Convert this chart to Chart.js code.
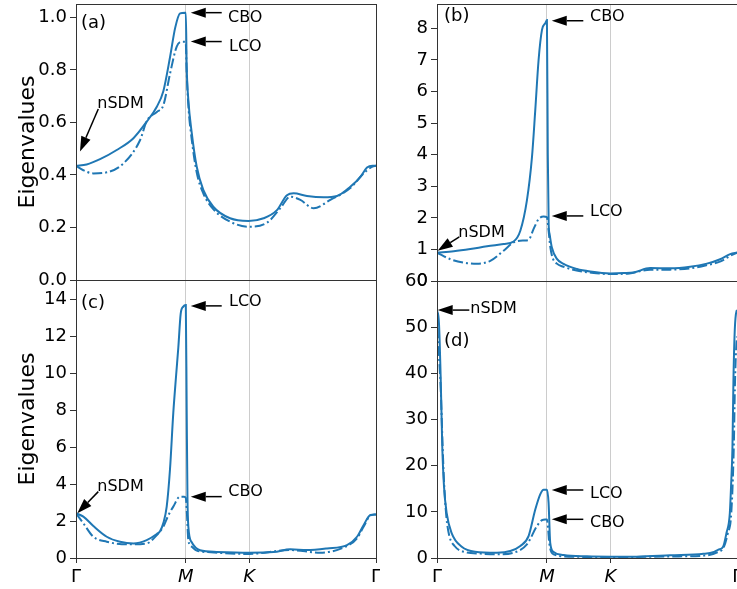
<!DOCTYPE html>
<html>
<head>
<meta charset="utf-8">
<script src="https://cdn.jsdelivr.net/npm/chart.js@4.4.1/dist/chart.umd.min.js"></script>
<style>
html,body{margin:0;padding:0;background:#fff;overflow:hidden;width:737px;height:589px}
canvas{position:absolute}
</style>
</head>
<body>
<canvas id="pa" width="380" height="300" style="left:0;top:0"></canvas>
<canvas id="pb" width="360" height="300" style="left:380px;top:0"></canvas>
<canvas id="pc" width="380" height="327" style="left:0;top:262px"></canvas>
<canvas id="pd" width="360" height="327" style="left:380px;top:262px"></canvas>
<script>
// path Γ-M-K-Γ in units of |ΓM|
const X_TICKS = [0, 1, 1.577, 2.732];
const X_LABELS = ['Γ', 'M', 'K', 'Γ'];

// (a)
const aYTicks = [0, 0.2, 0.4, 0.6, 0.8, 1.0];
const aSolidU = [0, 0.097, 0.219, 0.371, 0.523, 0.644, 0.736, 0.796, 0.857, 0.903, 0.948, 0.994, 1.0, 1.008, 1.023, 1.054, 1.099, 1.159, 1.25, 1.403, 1.571, 1.708, 1.83, 1.921, 1.982, 2.103, 2.255, 2.377, 2.498, 2.59, 2.65, 2.70, 2.732];
const aSolidV = [0.435, 0.44, 0.46, 0.495, 0.54, 0.603, 0.66, 0.72, 0.85, 0.96, 1.015, 1.018, 1.018, 0.813, 0.686, 0.56, 0.432, 0.343, 0.279, 0.235, 0.225, 0.235, 0.266, 0.323, 0.33, 0.32, 0.315, 0.32, 0.355, 0.393, 0.428, 0.435, 0.435];
const aDashU = [0, 0.067, 0.158, 0.28, 0.432, 0.584, 0.644, 0.736, 0.796, 0.857, 0.918, 0.964, 0.994, 1.0, 1.008, 1.023, 1.054, 1.099, 1.159, 1.25, 1.404, 1.571, 1.739, 1.86, 1.951, 2.043, 2.164, 2.316, 2.498, 2.62, 2.70, 2.732];
const aDashV = [0.435, 0.418, 0.406, 0.41, 0.444, 0.533, 0.605, 0.64, 0.666, 0.787, 0.89, 0.907, 0.907, 0.9, 0.79, 0.665, 0.535, 0.41, 0.33, 0.27, 0.222, 0.203, 0.218, 0.273, 0.317, 0.305, 0.273, 0.305, 0.35, 0.406, 0.432, 0.435];
// [text, tipU, tipV, tailU, tailV, textU, textV]
const aNotes = [
  ['CBO', 1.045, 1.018, 1.327, 1.018, 1.384, 0.997],
  ['LCO', 1.045, 0.908, 1.327, 0.908, 1.393, 0.887],
  ['nSDM', 0.036, 0.489, 0.203, 0.651, 0.194, 0.670]
];

// (b)
const bYTicks = [0, 1, 2, 3, 4, 5, 6, 7, 8];
const bSolidU = [0, 0.152, 0.303, 0.455, 0.606, 0.697, 0.758, 0.818, 0.864, 0.894, 0.924, 0.955, 0.985, 1.0, 1.008, 1.016, 1.024, 1.045, 1.091, 1.151, 1.273, 1.394, 1.576, 1.70, 1.788, 1.939, 2.121, 2.303, 2.455, 2.576, 2.667, 2.732];
const bSolidV = [0.9, 0.94, 1.01, 1.1, 1.17, 1.25, 1.59, 2.55, 3.92, 5.41, 6.99, 7.95, 8.16, 8.26, 4.0, 1.8, 1.49, 1.06, 0.7, 0.54, 0.38, 0.3, 0.24, 0.25, 0.27, 0.41, 0.4, 0.45, 0.55, 0.69, 0.85, 0.9];
const bDashU = [0, 0.121, 0.242, 0.364, 0.485, 0.606, 0.697, 0.788, 0.833, 0.879, 0.924, 0.970, 1.0, 1.015, 1.03, 1.05, 1.09, 1.15, 1.27, 1.39, 1.576, 1.75, 1.94, 2.12, 2.30, 2.45, 2.58, 2.67, 2.732];
const bDashV = [0.9, 0.69, 0.58, 0.545, 0.64, 0.96, 1.22, 1.28, 1.3, 1.65, 1.96, 2.04, 2.02, 1.6, 1.1, 0.75, 0.55, 0.45, 0.33, 0.27, 0.22, 0.24, 0.36, 0.36, 0.40, 0.50, 0.62, 0.80, 0.9];
const bNotes = [
  ['CBO', 1.044, 8.24, 1.331, 8.24, 1.392, 8.37],
  ['LCO', 1.044, 2.06, 1.331, 2.06, 1.392, 2.19],
  ['nSDM', 0.006, 0.96, 0.203, 1.40, 0.194, 1.54]
];

// (c)
const cYTicks = [0, 2, 4, 6, 8, 10, 12, 14];
const cSolidU = [0, 0.067, 0.158, 0.28, 0.401, 0.523, 0.644, 0.736, 0.765, 0.796, 0.826, 0.856, 0.886, 0.912, 0.932, 0.953, 0.977, 1.0, 1.008, 1.015, 1.023, 1.054, 1.13, 1.28, 1.577, 1.80, 1.951, 2.103, 2.286, 2.468, 2.559, 2.62, 2.681, 2.732];
const cSolidV = [2.42, 2.24, 1.73, 1.15, 0.88, 0.79, 0.97, 1.3, 1.45, 1.9, 2.78, 4.8, 7.85, 9.9, 11.4, 13.2, 13.6, 13.69, 8.0, 3.3, 1.7, 0.85, 0.42, 0.33, 0.29, 0.32, 0.47, 0.43, 0.52, 0.7, 1.15, 1.79, 2.33, 2.36];
const cDashU = [0, 0.067, 0.158, 0.28, 0.462, 0.644, 0.736, 0.795, 0.84, 0.886, 0.947, 0.985, 1.0, 1.01, 1.023, 1.054, 1.10, 1.2, 1.577, 1.951, 2.225, 2.468, 2.559, 2.62, 2.681, 2.732];
const cDashV = [2.42, 1.88, 1.15, 0.88, 0.74, 0.79, 1.24, 1.69, 2.3, 2.78, 3.32, 3.32, 3.25, 2.42, 0.97, 0.61, 0.40, 0.32, 0.22, 0.43, 0.29, 0.65, 1.06, 1.70, 2.3, 2.36];
const cNotes = [
  ['LCO', 1.045, 13.64, 1.327, 13.64, 1.393, 13.85],
  ['CBO', 1.045, 3.32, 1.327, 3.32, 1.387, 3.59],
  ['nSDM', 0.012, 2.42, 0.203, 3.59, 0.194, 3.83]
];

// (d)
const dYTicks = [0, 10, 20, 30, 40, 50, 60];
const dSolidU = [0, 0.018, 0.034, 0.048, 0.064, 0.088, 0.134, 0.225, 0.345, 0.545, 0.667, 0.758, 0.833, 0.894, 0.939, 0.970, 1.0, 1.015, 1.03, 1.061, 1.152, 1.364, 1.582, 1.818, 2.121, 2.424, 2.52, 2.56, 2.603, 2.633, 2.664, 2.676, 2.688, 2.697, 2.709, 2.725, 2.732];
const dSolidV = [53.7, 50.8, 38.6, 24.1, 15.4, 9.7, 5.35, 2.45, 1.36, 1.15, 1.51, 2.6, 4.75, 10.5, 13.8, 14.8, 14.8, 12.0, 3.3, 1.3, 0.65, 0.36, 0.29, 0.29, 0.58, 0.9, 1.3, 1.8, 2.45, 5.35, 9.7, 16, 24.1, 38.6, 49.4, 53.5, 53.7];
const dDashU = [0, 0.008, 0.02, 0.035, 0.05, 0.065, 0.085, 0.11, 0.16, 0.25, 0.394, 0.545, 0.697, 0.818, 0.909, 0.955, 0.985, 1.0, 1.012, 1.021, 1.061, 1.212, 1.58, 1.9, 2.2, 2.42, 2.55, 2.61, 2.645, 2.677, 2.70, 2.711, 2.723, 2.732];
const dDashV = [53.7, 48, 43, 36, 25, 16, 9, 5, 2.6, 1.3, 0.95, 0.8, 1.15, 2.95, 6.9, 8.2, 8.36, 8.36, 6, 3.3, 0.8, 0.29, 0.2, 0.25, 0.35, 0.5, 1.2, 2.4, 5.3, 9.7, 24, 38, 46, 48];
const dNotes = [
  ['nSDM', 0.006, 53.7, 0.294, 53.7, 0.303, 53.87],
  ['LCO', 1.044, 14.73, 1.331, 14.73, 1.392, 13.86],
  ['CBO', 1.044, 8.38, 1.331, 8.38, 1.392, 7.52]
];

const BLUE = '#1f77b4';
const FONT = 'DejaVu Sans';
Chart.defaults.font.family = FONT;

const pts = (u, v) => u.map((x, i) => ({x, y: v[i]}));

function arrow(ctx, x0, y0, x1, y1) {
  const a = Math.atan2(y1 - y0, x1 - x0), hl = 15, hw = 5;
  const bx = x1 - hl * Math.cos(a), by = y1 - hl * Math.sin(a);
  ctx.strokeStyle = '#000'; ctx.lineWidth = 1.5;
  ctx.beginPath(); ctx.moveTo(x0, y0); ctx.lineTo(bx, by); ctx.stroke();
  ctx.beginPath();
  ctx.moveTo(x1, y1);
  ctx.lineTo(bx - hw * Math.sin(a), by + hw * Math.cos(a));
  ctx.lineTo(bx + hw * Math.sin(a), by - hw * Math.cos(a));
  ctx.closePath(); ctx.fill();
}

// frame, panel tag and arrow notes
const marks = {
  id: 'marks',
  afterDatasetsDraw(chart, args, opts) {
    const {ctx, chartArea: c} = chart;
    const X = chart.scales.x, Y = chart.scales.y;
    ctx.save();
    ctx.strokeStyle = '#333'; ctx.lineWidth = 1;
    const l = Math.round(c.left) + 0.5, t = Math.round(c.top) + 0.5;
    const r = Math.round(c.right) + 0.5, b = Math.round(c.bottom) + 0.5;
    ctx.strokeRect(l, t, r - l, b - t);
    ctx.fillStyle = '#000'; ctx.textBaseline = 'middle'; ctx.textAlign = 'left';
    ctx.font = `18px "${FONT}"`;
    ctx.fillText(opts.tag[0], X.getPixelForValue(opts.tag[1]), Y.getPixelForValue(opts.tag[2]));
    ctx.font = `16px "${FONT}"`;
    opts.notes.forEach(([txt, tu, tv, au, av, lu, lv]) => {
      arrow(ctx, X.getPixelForValue(au), Y.getPixelForValue(av), X.getPixelForValue(tu), Y.getPixelForValue(tv));
      ctx.fillText(txt, X.getPixelForValue(lu), Y.getPixelForValue(lv));
    });
    ctx.restore();
  }
};

function panel(id, cfg) {
  const inner = c => c.index === 1 || c.index === 2;
  return new Chart(document.getElementById(id), {
    type: 'line',
    data: {datasets: [
      {data: pts(cfg.su, cfg.sv), borderColor: BLUE, borderWidth: 2, pointRadius: 0, cubicInterpolationMode: 'monotone'},
      {data: pts(cfg.du, cfg.dv), borderColor: BLUE, borderWidth: 2, borderDash: [10, 3, 2, 3], pointRadius: 0, cubicInterpolationMode: 'monotone'}
    ]},
    options: {
      responsive: false, animation: false, events: [],
      layout: {padding: cfg.pad},
      plugins: {legend: {display: false}, tooltip: {enabled: false}, marks: {tag: cfg.tag, notes: cfg.notes}},
      scales: {
        x: {
          type: 'linear', min: 0, max: X_TICKS[3],
          afterBuildTicks: s => { s.ticks = X_TICKS.map(v => ({value: v})); },
          afterFit: s => { s.height = cfg.xh; s.paddingLeft = 0; s.paddingRight = 0; },
          border: {display: false},
          grid: {color: c => inner(c) ? '#cccccc' : 'rgba(0,0,0,0)', lineWidth: 1, drawTicks: cfg.xlab, tickLength: 5, tickColor: '#333'},
          ticks: {display: cfg.xlab, autoSkip: false, maxRotation: 0, padding: 4, color: '#000',
            callback: (v, i) => X_LABELS[i],
            font: c => ({family: FONT, size: 18, style: inner(c) ? 'italic' : 'normal'})}
        },
        y: {
          min: cfg.ymin, max: cfg.ymax,
          afterBuildTicks: s => { s.ticks = cfg.yt.map(v => ({value: v})); },
          afterFit: s => { s.width = cfg.yw; s.paddingTop = 0; s.paddingBottom = 0; },
          border: {display: false},
          grid: {drawOnChartArea: false, tickLength: 6, tickColor: '#333'},
          ticks: {color: '#000', padding: 3, font: {family: FONT, size: 18}, callback: cfg.fmt},
          title: {display: cfg.title, text: 'Eigenvalues', color: '#000', font: {family: FONT, size: 22}, padding: {top: 15, bottom: 0}}
        }
      }
    },
    plugins: [marks]
  });
}

panel('pa', {su: aSolidU, sv: aSolidV, du: aDashU, dv: aDashV, yt: aYTicks, ymin: 0, ymax: 1.051,
  fmt: v => v.toFixed(1), tag: ['(a)', 0.046, 0.978], notes: aNotes,
  pad: {left: 0, top: 4, right: 4, bottom: 0}, xh: 20, yw: 76, xlab: false, title: true});
panel('pb', {su: bSolidU, sv: bSolidV, du: bDashU, dv: bDashV, yt: bYTicks, ymin: 0, ymax: 8.77,
  fmt: v => String(v), tag: ['(b)', 0.064, 8.37], notes: bNotes,
  pad: {left: 0, top: 4, right: 2.7, bottom: 0}, xh: 19, yw: 57, xlab: false, title: false});
panel('pc', {su: cSolidU, sv: cSolidV, du: cDashU, dv: cDashV, yt: cYTicks, ymin: 0, ymax: 15.04,
  fmt: v => String(v), tag: ['(c)', 0.046, 13.78], notes: cNotes,
  pad: {left: 0, top: 18, right: 4, bottom: 0}, xh: 31, yw: 76, xlab: true, title: true});
panel('pd', {su: dSolidU, sv: dSolidV, du: dDashU, dv: dDashV, yt: dYTicks, ymin: 0, ymax: 60,
  fmt: v => String(v), tag: ['(d)', 0.064, 46.85], notes: dNotes,
  pad: {left: 0, top: 19, right: 2.7, bottom: 0}, xh: 31, yw: 57, xlab: true, title: false});
</script>
</body>
</html>
